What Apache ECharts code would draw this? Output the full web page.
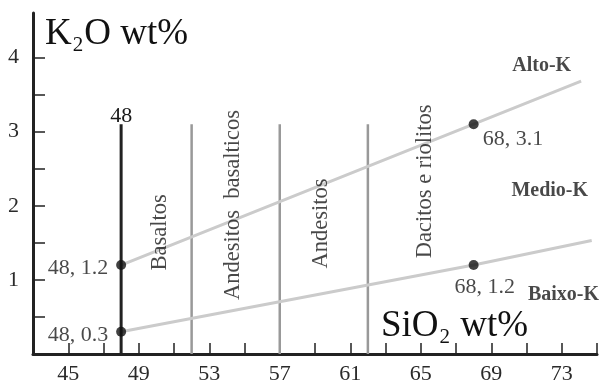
<!DOCTYPE html>
<html>
<head>
<meta charset="utf-8">
<script src="https://cdn.jsdelivr.net/npm/echarts@6/dist/echarts.min.js"></script>
<style>html,body{margin:0;padding:0;background:#fff}#c{width:611px;height:385px}</style>
</head>
<body>
<div id="c"></div>
<script>
// ---- data ----
const xTickLabels = [45, 49, 53, 57, 61, 65, 69, 73];
const yTickLabels = [1, 2, 3, 4];
const silicaBoundaries = [52, 57, 62];      // grey vertical dividers (SiO2 wt%)
const basaltLimit = 48;                      // black vertical line
const dividerTop = 3.1;                      // K2O top of vertical dividers
const highKLine = [[48, 1.2], [68, 3.1], [74.1, 3.68]];
const lowKLine = [[48, 0.3], [68, 1.2], [74.7, 1.53]];
const keyPoints = [[48, 1.2], [48, 0.3], [68, 3.1], [68, 1.2]];
const keyPointLabels = ['48, 1.2', '48, 0.3', '68, 3.1', '68, 1.2'];
const rockNames = ['Basaltos', 'Andesitos  basalticos', 'Andesitos', 'Dacitos e riolitos'];
const rockNamePos = [[50.2, 1.64], [54.36, 2.01], [59.36, 1.76], [65.22, 2.33]];
const seriesNames = ['Alto-K', 'Medio-K', 'Baixo-K'];
const seriesNamePos = [[71.86, 3.89], [72.32, 2.2], [73.1, 0.8]];

const FONT = 'Liberation Serif';
const TXT = '#1a1a1a';
const chart = echarts.init(document.getElementById('c'), null, {renderer: 'canvas'});

const series = [];
// black basalt line
series.push({type: 'line', data: [[basaltLimit, 0], [basaltLimit, dividerTop]], symbol: 'none',
  lineStyle: {color: '#222', width: 3}, z: 3, silent: true,
  markPoint: {symbol: 'circle', symbolSize: 0, data: [{coord: [basaltLimit, dividerTop], value: basaltLimit,
    label: {show: true, position: 'top', distance: 0, offset: [0, 3], formatter: String(basaltLimit), fontFamily: FONT, fontSize: 22, color: TXT}}]}});
silicaBoundaries.forEach(x => series.push({type: 'line', data: [[x, 0], [x, dividerTop]], symbol: 'none',
  lineStyle: {color: '#999', width: 2.5}, z: 2, silent: true}));
[highKLine, lowKLine].forEach(d => series.push({type: 'line', data: d, symbol: 'none',
  lineStyle: {color: '#cbcbcb', width: 3}, z: 2, silent: true}));
// key points
const ptLabelCfg = [
  {position: 'left', distance: 8, offset: [0, 3]},
  {position: 'left', distance: 8, offset: [0, 3]},
  {position: 'right', distance: 4, offset: [0, 15]},
  {position: 'bottom', distance: 4, offset: [11, 2]}
];
series.push({type: 'scatter', symbolSize: 10, itemStyle: {color: '#111'}, z: 5,
  data: keyPoints.map((p, i) => ({value: p, label: Object.assign({show: true, formatter: keyPointLabels[i],
    fontFamily: FONT, fontSize: 22, color: TXT}, ptLabelCfg[i])}))});
// rock names (rotated)
series.push({type: 'scatter', symbolSize: 0, z: 4, silent: true,
  data: rockNamePos.map((p, i) => ({value: p, label: {show: true, position: 'inside', rotate: 90,
    formatter: rockNames[i], fontFamily: FONT, fontSize: 22.5, color: TXT}}))});
// series names
series.push({type: 'scatter', symbolSize: 0, z: 4, silent: true,
  data: seriesNamePos.map((p, i) => ({value: p, label: {show: true, position: 'inside',
    formatter: seriesNames[i], fontFamily: FONT, fontSize: 20, fontWeight: 'bold', color: TXT}}))});

const richTitle = {
  a: {fontFamily: FONT, fontSize: 37, lineHeight: 44, fill: '#111'},
  b: {fontFamily: FONT, fontSize: 21, lineHeight: 21, padding: [23, 1, 0, 1], fill: '#111'}
};

chart.setOption({
  animation: false,
  backgroundColor: '#fff',
  grid: {left: 33, right: 14, top: 13, bottom: 28},
  xAxis: {type: 'value', min: 43, max: 75, interval: 2,
    axisLine: {lineStyle: {color: '#222', width: 3}},
    axisTick: {inside: true, length: 11, lineStyle: {color: '#222', width: 1.5}},
    axisLabel: {margin: 9, fontFamily: FONT, fontSize: 22, color: '#2a2a2a',
      formatter: v => xTickLabels.indexOf(v) >= 0 ? String(v) : ''},
    splitLine: {show: false}},
  yAxis: {type: 'value', min: 0, max: 4.6, interval: 0.5,
    axisLine: {show: true, lineStyle: {color: '#222', width: 3}},
    axisTick: {show: true, inside: true, length: 12, lineStyle: {color: '#222', width: 1.5},
      customValues: [0.5, 1, 1.5, 2, 2.5, 3, 3.5, 4]},
    axisLabel: {margin: 14, fontFamily: FONT, fontSize: 22, color: '#2a2a2a', customValues: yTickLabels,
      formatter: v => yTickLabels.indexOf(v) >= 0 ? String(v) : ''},
    splitLine: {show: false}},
  graphic: [
    {type: 'text', left: 45, top: 12, z: 10, style: {text: '{a|K}{b|2}{a|O wt%}', rich: richTitle}},
    {type: 'text', left: 381, top: 304, z: 10, style: {text: '{a|SiO}{b|2}{a| wt%}', rich: richTitle}}
  ],
  series: series
});
</script>
</body>
</html>
